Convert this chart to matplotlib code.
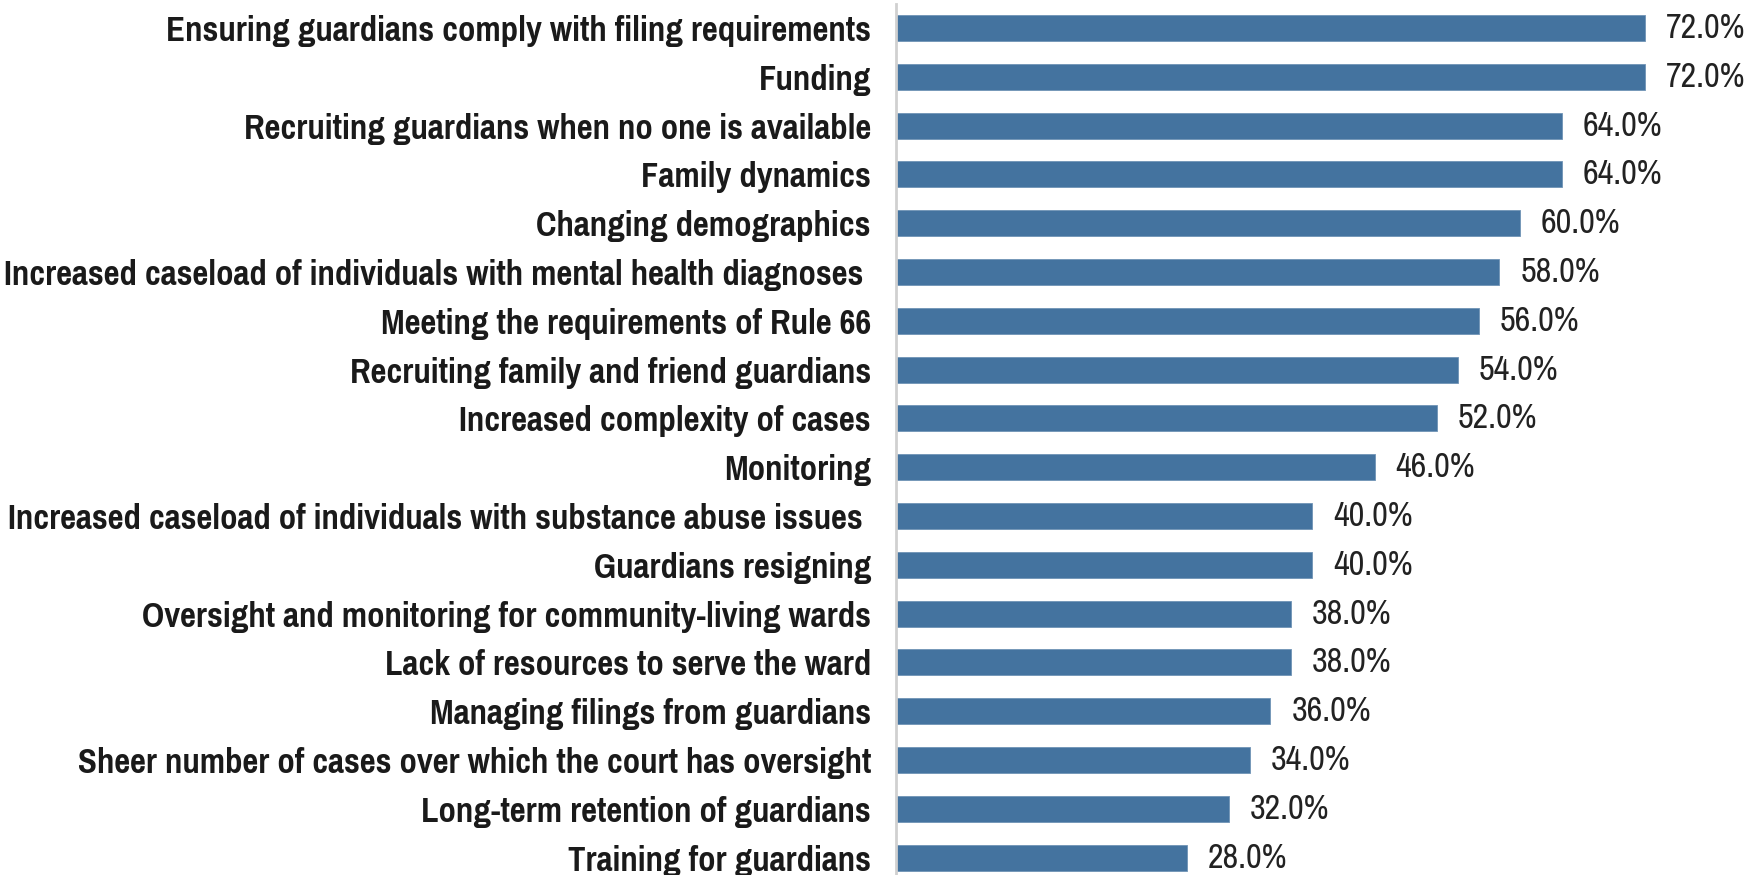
import matplotlib
matplotlib.use("Agg")
import matplotlib.pyplot as plt
from matplotlib import font_manager

categories = [
    "Ensuring guardians comply with filing requirements",
    "Funding",
    "Recruiting guardians when no one is available",
    "Family dynamics",
    "Changing demographics",
    "Increased caseload of individuals with mental health diagnoses ",
    "Meeting the requirements of Rule 66",
    "Recruiting family and friend guardians",
    "Increased complexity of cases",
    "Monitoring",
    "Increased caseload of individuals with substance abuse issues ",
    "Guardians resigning",
    "Oversight and monitoring for community-living wards",
    "Lack of resources to serve the ward",
    "Managing filings from guardians",
    "Sheer number of cases over which the court has oversight",
    "Long-term retention of guardians",
    "Training for guardians",
]
values = [72.0, 72.0, 64.0, 64.0, 60.0, 58.0, 56.0, 54.0, 52.0, 46.0,
          40.0, 40.0, 38.0, 38.0, 36.0, 34.0, 32.0, 28.0]

names = {f.name for f in font_manager.fontManager.ttflist}
cands = ["Liberation Sans Narrow", "Arial Narrow", "Pragati Narrow", "PT Sans Narrow",
         "Roboto Condensed", "Archivo Narrow", "Liberation Sans"]
narrow = next(c for c in cands if c in names)
fam = [narrow, "DejaVu Sans"]

W, H = 1765, 875
fig = plt.figure(figsize=(W / 100, H / 100), dpi=100)
ax = fig.add_axes([896 / W, 0, 832.2 / W, 1])

ypos = list(range(len(categories)))
ax.barh(ypos, values, height=0.53, color="#44739f", edgecolor="#6f93b5", linewidth=0.6)
ax.set_xlim(0, 80)
ax.set_ylim(17.357, -0.574)

vlabels = []
for y, v in zip(ypos, values):
    t = ax.text(v + 2.0, y, f"{v:.1f}%", va="center", ha="left",
                fontsize=24, color="#222222", family=fam)
    vlabels.append(t)

ax.set_yticks(ypos)
ax.set_yticklabels(categories, fontsize=22, fontweight="bold", color="#1a1a1a", family=fam)
ax.tick_params(axis="y", length=0, pad=18)
ax.set_xticks([])
for s in ["top", "right", "bottom"]:
    ax.spines[s].set_visible(False)
ax.spines["left"].set_color("#d0d0d0")
ax.spines["left"].set_linewidth(2)
ax.spines["left"].set_bounds(17.357, -0.5)

# fit font sizes to the reference's text widths
r = fig.canvas.get_renderer()
lab = ax.get_yticklabels()[15]
w = lab.get_window_extent(r).width
for l in ax.get_yticklabels():
    l.set_fontsize(22 * 792 / w)
w2 = vlabels[0].get_window_extent(r).width
for t in vlabels:
    t.set_fontsize(24 * 80 / w2)

fig.savefig("out.png", dpi=100, facecolor="white")
